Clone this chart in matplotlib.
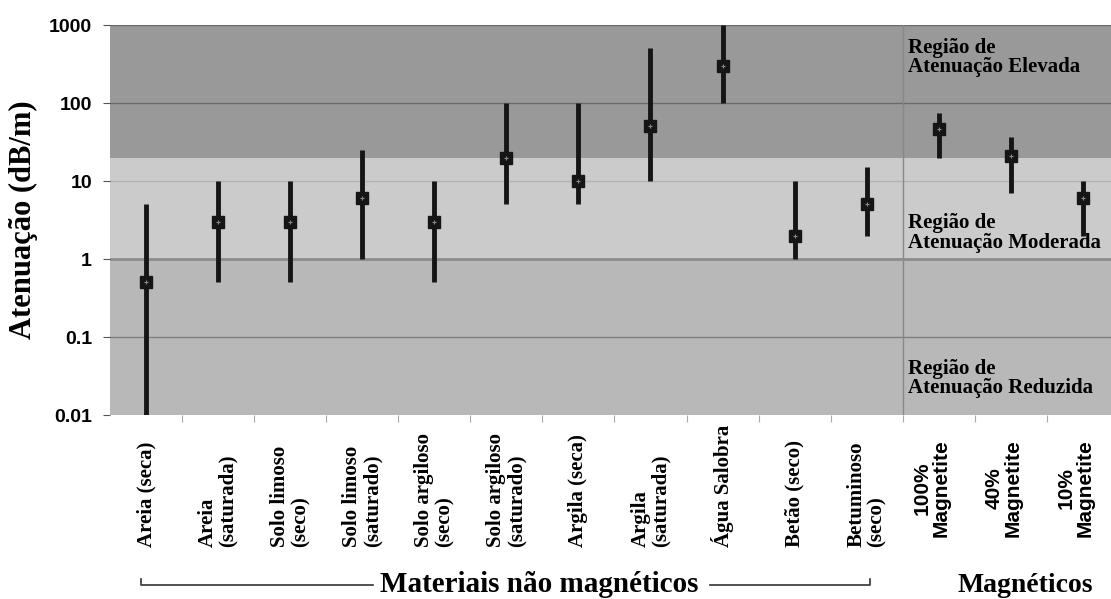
import numpy as np
import matplotlib.pyplot as plt
from matplotlib.transforms import blended_transform_factory

materiais = ['Areia (seca)', 'Areia\n(saturada)', 'Solo limoso\n(seco)', 'Solo limoso\n(saturado)',
             'Solo argiloso\n(seco)', 'Solo argiloso\n(saturado)', 'Argila (seca)', 'Argila\n(saturada)',
             'Água Salobra', 'Betão (seco)', 'Betuminoso\n(seco)']
magneticos = ['100%\nMagnetite', '40%\nMagnetite', '10%\nMagnetite']

valor = [0.5, 3, 3, 6, 3, 20, 10, 50, 300, 2, 5, 47, 21, 6]
minimo = [0.01, 0.5, 0.5, 1, 0.5, 5, 5, 10, 100, 1, 2, 20, 7, 2]
maximo = [5, 10, 10, 25, 10, 100, 100, 500, 1000, 10, 15, 75, 37, 10]

serif = 'Liberation Serif'
sans = 'Liberation Sans'

fig = plt.figure(figsize=(11.11, 5.99), dpi=100)
ax = fig.add_axes([110/1111, 1-415/599, 1-110/1111, 390/599])
ax.set_yscale('log')
ax.set_ylim(0.01, 1000)
ax.set_xlim(-0.5, 13.39)

# regiões de atenuação
ax.axhspan(20, 1000, color='#999999', lw=0, zorder=0)
ax.axhspan(1, 20, color='#cbcbcb', lw=0, zorder=0)
ax.axhspan(0.01, 1, color='#b8b8b8', lw=0, zorder=0)
for v in [0.1, 100, 1000]:
    ax.axhline(v, color='black', alpha=0.3, lw=1, zorder=1)
ax.axhline(10, color='black', alpha=0.12, lw=1, zorder=1)
ax.axhline(1, color='#8c8c8c', lw=2, zorder=1)
ax.axvline(10.5, color='#888888', lw=1, zorder=1)

x = np.arange(len(valor))
v = np.array(valor)
ax.errorbar(x, v, yerr=[v - np.array(minimo), np.array(maximo) - v], fmt='s', color='#151515',
            ms=8, ecolor='#151515', elinewidth=3.5, capsize=0, zorder=3)
ax.plot(x, v, '+', color='#888888', ms=3, mew=0.8, zorder=4)

for s in ax.spines.values():
    s.set_visible(False)
ax.set_yticks([0.01, 0.1, 1, 10, 100, 1000])
ax.set_yticklabels(['0.01', '0.1', '1', '10', '100', '1000'], fontfamily=sans,
                   fontweight='bold', fontsize=14)
ax.yaxis.set_minor_locator(plt.NullLocator())
ax.tick_params(axis='y', length=5, color='#555555', pad=8)
ax.set_xticks(np.arange(13) + 0.5)
ax.set_xticklabels([])
ax.tick_params(axis='x', length=5, color='#aaaaaa')
ax.set_ylabel('Atenuação (dB/m)', fontfamily=serif, fontweight='bold', fontsize=22, labelpad=8)

tr = blended_transform_factory(ax.transData, fig.transFigure)
for i, t in enumerate(materiais):
    ax.text(i, 1-547/599, t, transform=tr, rotation=90, ha='center', va='bottom',
            multialignment='left', fontfamily=serif, fontweight='bold', fontsize=15, linespacing=1.0)
for j, t in enumerate(magneticos):
    ax.text(11 + j - 0.1, 1-488/599, t, transform=tr, rotation=90, ha='center', va='center',
            multialignment='center', fontfamily=sans, fontweight='bold', fontsize=15, linespacing=1.05)

regioes = [('Região de\nAtenuação Elevada', 380), ('Região de\nAtenuação Moderada', 2.15),
           ('Região de\nAtenuação Reduzida', 0.0296)]
for t, yv in regioes:
    ax.text(10.57, yv, t, ha='left', va='center', fontfamily=serif, fontweight='bold',
            fontsize=15, linespacing=0.95, zorder=5)

# chaveta inferior
yb = 1 - 585/599
ax.plot([-0.07, -0.07, 3.15], [1-579/599, yb, yb], transform=tr, color='#333333', lw=1.2, clip_on=False)
ax.plot([7.83, 10.05, 10.05], [yb, yb, 1-579/599], transform=tr, color='#333333', lw=1.2, clip_on=False)
ax.text(5.45, yb, 'Materiais não magnéticos', transform=tr, ha='center', va='center',
        fontfamily=serif, fontweight='bold', fontsize=21)
ax.text(12.2, yb, 'Magnéticos', transform=tr, ha='center', va='center',
        fontfamily=serif, fontweight='bold', fontsize=20)

fig.savefig('out.png', dpi=100)
